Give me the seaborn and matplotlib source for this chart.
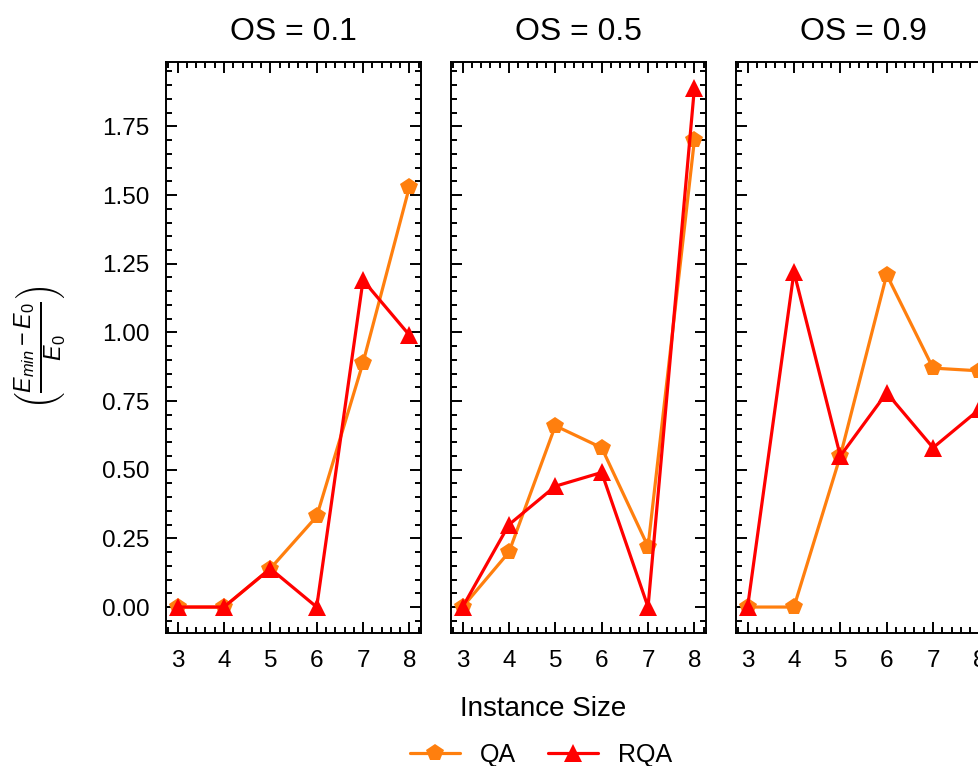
import matplotlib
matplotlib.use("Agg")
import matplotlib.pyplot as plt
from matplotlib.ticker import AutoMinorLocator, MultipleLocator
import pandas as pd
import seaborn as sns

# ---- data ---------------------------------------------------------------
sizes = [3, 4, 5, 6, 7, 8]
os_levels = ["0.1", "0.5", "0.9"]
qa_os01 = [0.0, 0.0, 0.14, 0.33, 0.89, 1.53]
rqa_os01 = [0.0, 0.0, 0.14, 0.0, 1.19, 0.99]
qa_os05 = [0.0, 0.20, 0.66, 0.58, 0.22, 1.70]
rqa_os05 = [0.0, 0.30, 0.44, 0.49, 0.0, 1.89]
qa_os09 = [0.0, 0.0, 0.55, 1.21, 0.87, 0.86]
rqa_os09 = [0.0, 1.22, 0.55, 0.78, 0.58, 0.72]

qa_series = [qa_os01, qa_os05, qa_os09]
rqa_series = [rqa_os01, rqa_os05, rqa_os09]

rows = []
for os_lvl, qa, rqa in zip(os_levels, qa_series, rqa_series):
    for s, q, r in zip(sizes, qa, rqa):
        rows.append({"OS": os_lvl, "size": s, "method": "QA", "value": q})
        rows.append({"OS": os_lvl, "size": s, "method": "RQA", "value": r})
df = pd.DataFrame(rows)

palette = {"QA": "#ff7f0e", "RQA": "#ff0000"}
markers = {"QA": "p", "RQA": "^"}

sns.set_theme(style="ticks")
plt.rcParams["font.family"] = ["Liberation Sans", "DejaVu Sans"]
plt.rcParams["mathtext.fontset"] = "custom"
plt.rcParams["mathtext.rm"] = "Liberation Sans"
plt.rcParams["mathtext.it"] = "Liberation Sans:italic"
for key in ["text.color", "axes.labelcolor", "xtick.color", "ytick.color",
            "axes.edgecolor"]:
    plt.rcParams[key] = "black"

fig = plt.figure(figsize=(9.79, 7.66), dpi=100)
W, H = 979, 766
lefts = [166, 451, 736]
axes = []
for lx in lefts:
    ax = fig.add_axes([lx / W, 1 - 633 / H, 255 / W, 571 / H],
                      sharey=axes[0] if axes else None)
    axes.append(ax)

for ax, os_lvl in zip(axes, os_levels):
    sub = df[df["OS"] == os_lvl]
    sns.lineplot(data=sub, x="size", y="value", hue="method", style="method",
                 palette=palette, markers=markers, dashes=False,
                 markersize=13, markeredgewidth=0, linewidth=2.3,
                 legend=(os_lvl == "0.1"), ax=ax)
    ax.set_title(f"OS = {os_lvl}", fontsize=23, pad=16)
    ax.set_xlabel("")
    ax.set_ylabel("")
    ax.xaxis.set_major_locator(MultipleLocator(1))
    ax.yaxis.set_major_locator(MultipleLocator(0.25))
    ax.xaxis.set_minor_locator(AutoMinorLocator(5))
    ax.yaxis.set_minor_locator(AutoMinorLocator(5))
    ax.tick_params(which="both", direction="in", top=True, right=True,
                   width=1.4, labelsize=17.5)
    ax.tick_params(which="major", length=8)
    ax.tick_params(axis="x", which="major", pad=12)
    ax.tick_params(axis="y", which="major", pad=12)
    ax.tick_params(which="minor", length=4.5)
    for sp in ax.spines.values():
        sp.set_linewidth(1.4)
    if ax is not axes[0]:
        ax.tick_params(labelleft=False)

axes[0].set_ylabel(r"$\left(\frac{E_{min} - E_0}{E_0}\right)$", fontsize=24,
                   labelpad=24)

handles, labels = axes[0].get_legend_handles_labels()
axes[0].get_legend().remove()
fig.legend(handles, labels, loc="center", bbox_to_anchor=(541 / W, 1 - 755 / H),
           ncol=2, frameon=False, fontsize=18, columnspacing=1.3,
           handlelength=2.0, handletextpad=0.8)
fig.text(543 / W, 1 - 709 / H, "Instance Size", ha="center", va="center",
         fontsize=20)

fig.savefig("out.png", dpi=100)
